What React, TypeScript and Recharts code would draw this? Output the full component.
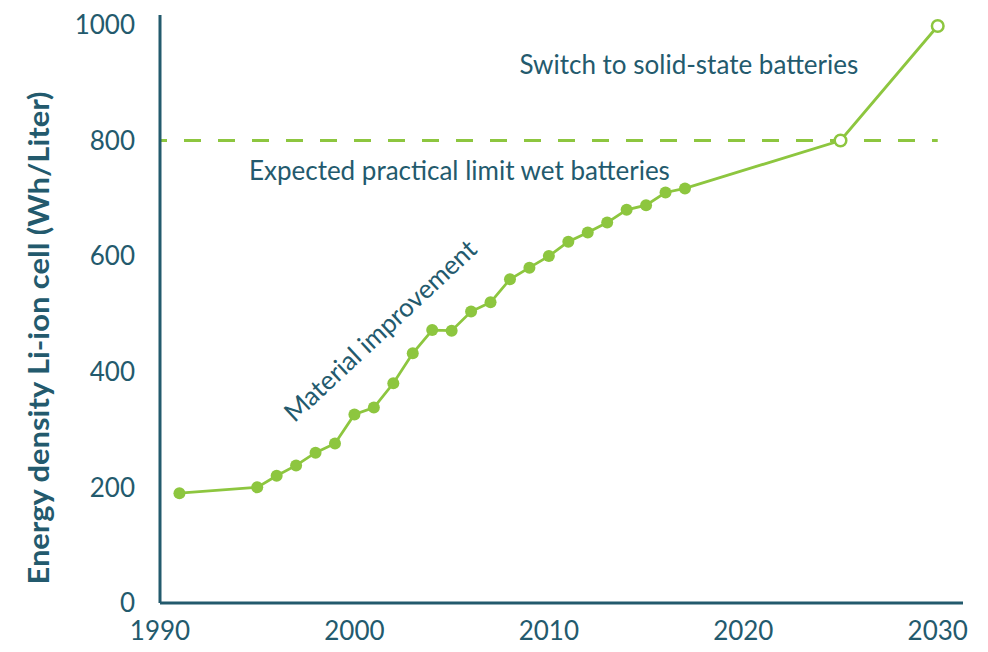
import { LineChart, Line, XAxis, YAxis, ReferenceLine, ReferenceDot } from "recharts"

const years = [1991, 1995, 1996, 1997, 1998, 1999, 2000, 2001, 2002, 2003, 2004, 2005, 2006, 2007, 2008, 2009, 2010, 2011, 2012, 2013, 2014, 2015, 2016, 2017, 2025, 2030]
const density = [190, 200, 220, 238, 260, 276, 326, 338, 380, 432, 472, 471, 504, 520, 560, 580, 600, 625, 641, 658, 680, 688, 710, 717, 800, 998]
const lastMeasured = 2017

const xTicks = [1990, 2000, 2010, 2020, 2030]
const yTicks = [0, 200, 400, 600, 800, 1000]
const limitValue = 800

const teal = "#235a6d"
const green = "#8dc63f"
const font = "Lato, 'Open Sans', sans-serif"

const data = years.map((year, i) => ({ year, value: density[i] }))

function Dot(props: any) {
    const { cx, cy, payload } = props
    if (cx == null || cy == null) return null
    if (payload.year > lastMeasured) {
        return <circle cx={cx} cy={cy} r={5.8} fill="#fff" stroke={green} strokeWidth={2.5} />
    }
    return <circle cx={cx} cy={cy} r={6} fill={green} stroke="none" />
}

function Note({ viewBox, text, angle = 0 }: any) {
    const x = viewBox.x + (viewBox.width || 0) / 2
    const y = viewBox.y + (viewBox.height || 0) / 2
    return (
        <text
            x={x}
            y={y}
            textAnchor="middle"
            dominantBaseline="central"
            fill={teal}
            fontSize={26}
            fontFamily={font}
            transform={angle ? `rotate(${angle} ${x} ${y})` : undefined}
        >
            {text}
        </text>
    )
}

function YLabel() {
    return (
        <text
            x={0}
            y={0}
            transform="translate(37 338) rotate(-90)"
            textAnchor="middle"
            dominantBaseline="central"
            fill={teal}
            fontSize={29}
            fontWeight={700}
            fontFamily={font}
            textLength={493}
            lengthAdjust="spacingAndGlyphs"
        >
            Energy density Li-ion cell (Wh/Liter)
        </text>
    )
}

export default function App() {
    return (
        <div style={{ position: "absolute", left: 0, top: 0, background: "#fff" }}>
            <LineChart width={988} height={652} data={data} margin={{ top: 15, right: 25, left: 0, bottom: 0 }}>
                <XAxis
                    dataKey="year"
                    type="number"
                    domain={[1990, 2031.3]}
                    ticks={xTicks}
                    allowDataOverflow
                    height={49}
                    axisLine={{ stroke: teal, strokeWidth: 3 }}
                    tickLine={false}
                    tickSize={14}
                    tickMargin={5}
                    tick={{ fill: teal, fontSize: 26, fontFamily: font }}
                />
                <YAxis
                    type="number"
                    domain={[0, 1017]}
                    ticks={yTicks}
                    allowDataOverflow
                    width={160}
                    axisLine={{ stroke: teal, strokeWidth: 3 }}
                    tickLine={false}
                    tickSize={20}
                    tickMargin={5}
                    tick={{ fill: teal, fontSize: 26, fontFamily: font }}
                    label={<YLabel />}
                />
                <ReferenceLine
                    segment={[{ x: 1990, y: limitValue }, { x: 2030, y: limitValue }]}
                    stroke={green}
                    strokeWidth={3}
                    strokeDasharray="17 17"
                    strokeDashoffset={10}
                />
                <Line
                    type="linear"
                    dataKey="value"
                    stroke={green}
                    strokeWidth={2.8}
                    dot={<Dot />}
                    activeDot={false}
                    isAnimationActive={false}
                />
                <ReferenceDot x={2017.2} y={932} r={0} fill="none" stroke="none" label={(p: any) => <Note {...p} text="Switch to solid-state batteries" />} />
                <ReferenceDot x={2005.4} y={749} r={0} fill="none" stroke="none" label={(p: any) => <Note {...p} text="Expected practical limit wet batteries" />} />
                <ReferenceDot x={2001.3} y={472} r={0} fill="none" stroke="none" label={(p: any) => <Note {...p} text="Material improvement" angle={-43} />} />
            </LineChart>
        </div>
    )
}
